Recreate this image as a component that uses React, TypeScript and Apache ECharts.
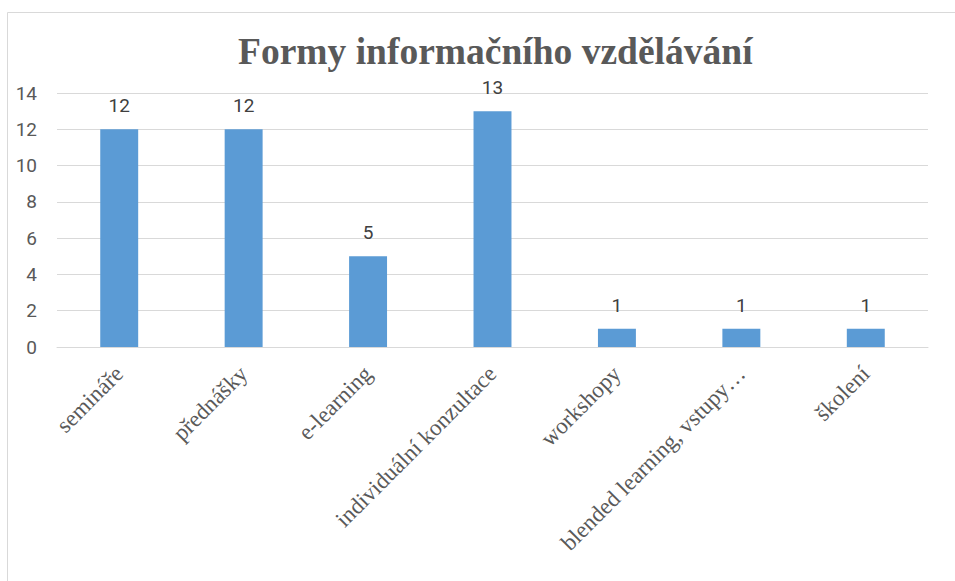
import React, { useEffect, useRef } from "react";
import * as echarts from "echarts";

const categories = [
  "semináře",
  "přednášky",
  "e-learning",
  "individuální konzultace",
  "workshopy",
  "blended learning, vstupy…",
  "školení",
];
const values = [12, 12, 5, 13, 1, 1, 1];
const titleText = "Formy informačního vzdělávání";

export default function App() {
  const ref = useRef<HTMLDivElement>(null);
  useEffect(() => {
    if (!ref.current) return;
    const chart = echarts.init(ref.current, undefined, { renderer: "svg" });
    chart.setOption({
      animation: false,
      backgroundColor: "#ffffff",
      title: {
        text: titleText,
        left: 233,
        top: 27,
        textStyle: {
          fontFamily: "Liberation Serif",
          fontWeight: "bold",
          fontSize: 37.5,
          color: "#595959",
        },
      },
      graphic: [
        {
          type: "rect",
          z: -1,
          shape: { x: 7.5, y: 12.5, width: 1000, height: 1000 },
          style: { fill: "none", stroke: "#d9d9d9", lineWidth: 1 },
        },
      ],
      grid: { left: 57, right: 27, top: 93, bottom: 234 },
      xAxis: {
        type: "category",
        data: categories,
        axisLine: { lineStyle: { color: "#d9d9d9" } },
        axisTick: { show: false },
        axisLabel: {
          interval: 0,
          rotate: 45,
          margin: 23,
          fontFamily: "Liberation Serif",
          fontSize: 23,
          color: "#595959",
        },
      },
      yAxis: {
        type: "value",
        min: 0,
        max: 14,
        interval: 2,
        axisLine: { show: false },
        axisTick: { show: false },
        splitLine: { lineStyle: { color: "#d9d9d9" } },
        axisLabel: {
          margin: 20,
          fontFamily: "Roboto",
          fontSize: 19,
          color: "#595959",
        },
      },
      series: [
        {
          type: "bar",
          data: values,
          barWidth: "30.5%",
          itemStyle: { color: "#5b9bd5" },
          label: {
            show: true,
            position: "top",
            distance: 14,
            fontFamily: "Roboto",
            fontSize: 19,
            color: "#404040",
          },
        },
      ],
    });
    return () => chart.dispose();
  }, []);
  return (
    <div
      ref={ref}
      style={{ position: "fixed", left: 0, top: 0, width: 955, height: 581 }}
    />
  );
}
